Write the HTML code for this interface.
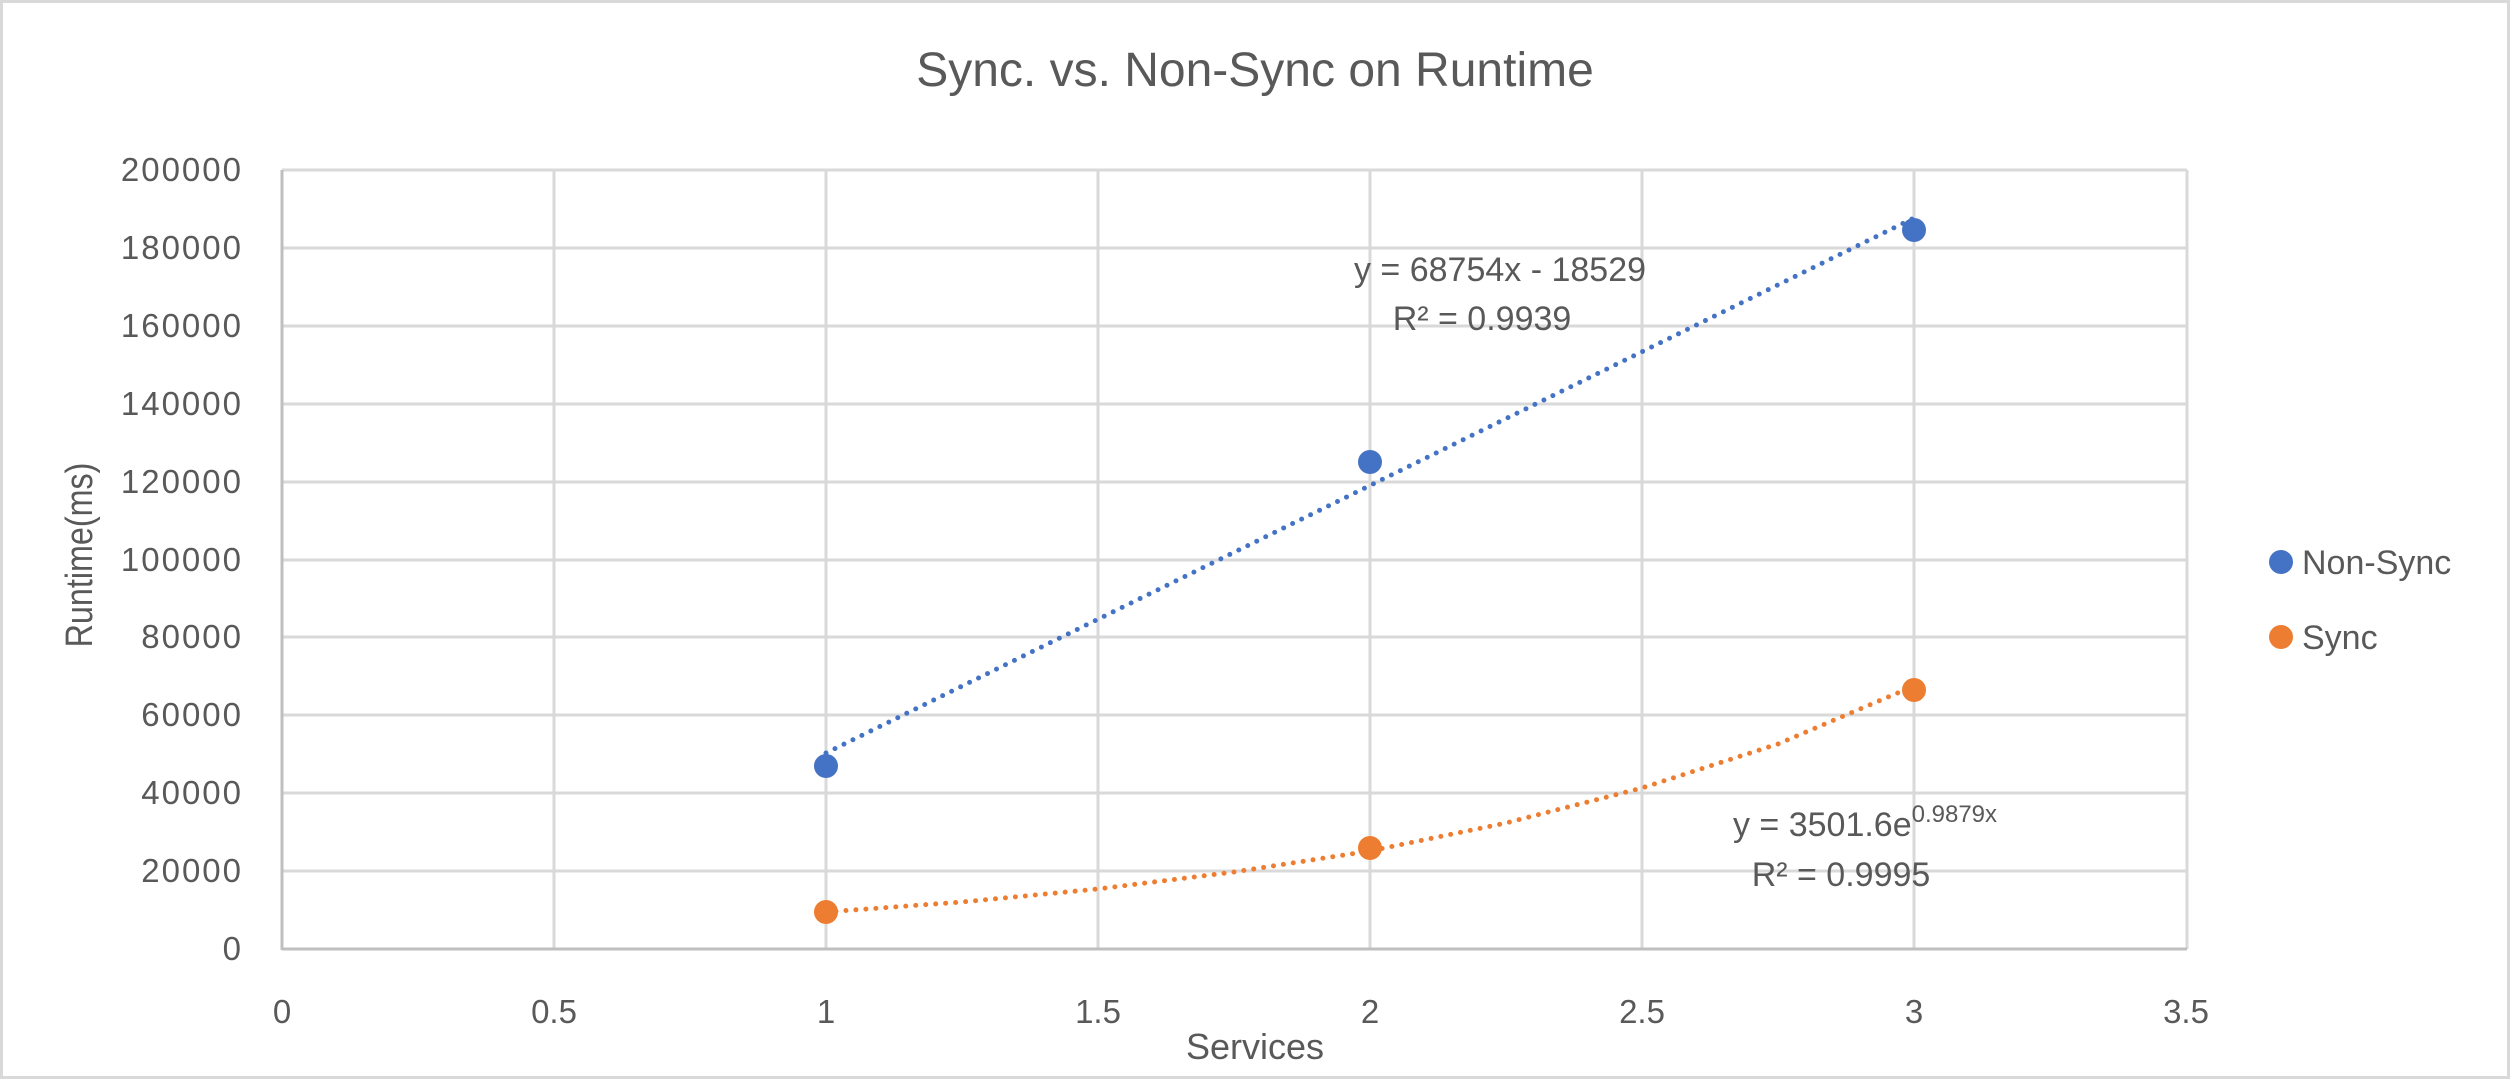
<!DOCTYPE html>
<html><head><meta charset="utf-8"><style>
html,body{margin:0;padding:0;background:#fff;}
svg{display:block;font-family:"Liberation Sans",sans-serif;}
</style></head><body>
<svg width="2510" height="1079" viewBox="0 0 2510 1079" xmlns="http://www.w3.org/2000/svg">
<rect x="1.5" y="1.5" width="2507" height="1076" fill="#fff" stroke="#d9d9d9" stroke-width="3"/>
<text x="1255" y="86" text-anchor="middle" font-size="48" fill="#595959">Sync. vs. Non-Sync on  Runtime</text>
<g stroke="#d9d9d9" stroke-width="3">
<line x1="282" y1="170" x2="2187" y2="170"/>
<line x1="282" y1="248" x2="2187" y2="248"/>
<line x1="282" y1="326" x2="2187" y2="326"/>
<line x1="282" y1="404" x2="2187" y2="404"/>
<line x1="282" y1="482" x2="2187" y2="482"/>
<line x1="282" y1="560" x2="2187" y2="560"/>
<line x1="282" y1="637" x2="2187" y2="637"/>
<line x1="282" y1="715" x2="2187" y2="715"/>
<line x1="282" y1="793" x2="2187" y2="793"/>
<line x1="282" y1="871" x2="2187" y2="871"/>
<line x1="554" y1="170" x2="554" y2="949"/>
<line x1="826" y1="170" x2="826" y2="949"/>
<line x1="1098" y1="170" x2="1098" y2="949"/>
<line x1="1370" y1="170" x2="1370" y2="949"/>
<line x1="1642" y1="170" x2="1642" y2="949"/>
<line x1="1914" y1="170" x2="1914" y2="949"/>
<line x1="2187" y1="170" x2="2187" y2="949"/>
</g>
<g stroke="#bfbfbf" stroke-width="3">
<line x1="282" y1="170" x2="282" y2="950"/>
<line x1="282" y1="949" x2="2187" y2="949"/>
</g>
<g font-size="33" fill="#595959" text-anchor="end" letter-spacing="2">
<text x="243" y="181">200000</text>
<text x="243" y="259">180000</text>
<text x="243" y="337">160000</text>
<text x="243" y="415">140000</text>
<text x="243" y="493">120000</text>
<text x="243" y="571">100000</text>
<text x="243" y="648">80000</text>
<text x="243" y="726">60000</text>
<text x="243" y="804">40000</text>
<text x="243" y="882">20000</text>
<text x="243" y="960">0</text>
</g>
<g font-size="33" fill="#595959" text-anchor="middle">
<text x="282" y="1023">0</text>
<text x="554" y="1023">0.5</text>
<text x="826" y="1023">1</text>
<text x="1098" y="1023">1.5</text>
<text x="1370" y="1023">2</text>
<text x="1642" y="1023">2.5</text>
<text x="1914" y="1023">3</text>
<text x="2186" y="1023">3.5</text>
</g>
<text x="1255" y="1059" text-anchor="middle" font-size="36" fill="#595959">Services</text>
<text transform="translate(92,555) rotate(-90) scale(0.85,1)" text-anchor="middle" font-size="38" fill="#595959">Runtime(ms)</text>
<line x1="826" y1="753" x2="1914" y2="218" stroke="#4472c4" stroke-width="5" stroke-linecap="round" stroke-dasharray="0 10"/>
<path fill="none" stroke="#ed7d31" stroke-width="5" stroke-linecap="round" stroke-dasharray="0 10" d="M826,912 L962,902 L1098,889 L1234,872 L1370,851 L1506,823 L1642,788 L1778,744 L1914,686"/>
<g fill="#4472c4">
<circle cx="826" cy="766" r="12"/>
<circle cx="1370" cy="462" r="12"/>
<circle cx="1914" cy="230" r="12"/>
</g>
<g fill="#ed7d31">
<circle cx="826" cy="912" r="12"/>
<circle cx="1370" cy="848" r="12"/>
<circle cx="1914" cy="690" r="12"/>
</g>
<g font-size="34" fill="#595959" text-anchor="middle">
<text x="1500" y="281">y = 68754x - 18529</text>
<text x="1482" y="330">R² = 0.9939</text>
<text x="1865" y="836">y = 3501.6e<tspan font-size="24" dy="-14">0.9879x</tspan></text>
<text x="1841" y="886">R² = 0.9995</text>
</g>
<circle cx="2281" cy="562" r="12" fill="#4472c4"/>
<circle cx="2281" cy="637" r="12" fill="#ed7d31"/>
<g font-size="34" fill="#595959">
<text x="2302" y="574">Non-Sync</text>
<text x="2302" y="649">Sync</text>
</g>
</svg>
</body></html>
